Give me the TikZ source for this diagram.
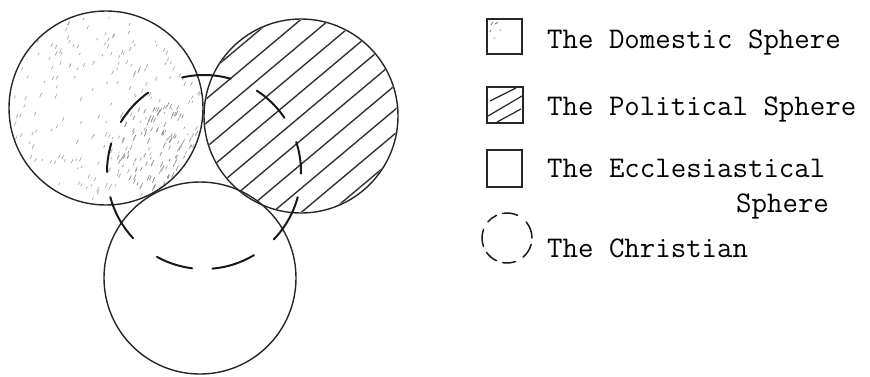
\documentclass[tikz,border=0pt]{standalone}
\usetikzlibrary{calc}
\tikzset{
  ring/.style={draw=black!85, line width=1.4pt},
  hatch/.style={draw=black!80, line width=1.4pt},
  xdash/.style={draw=black!90, line width=2pt, line cap=round},
  stip/.style={draw=black!35, line width=0.7pt, line cap=round},
  legbox/.style={draw=black!85, line width=1.3pt},
  legtext/.style={anchor=base west, inner sep=0pt, font=\fontsize{30}{36}\selectfont\ttfamily, text=black}
}
\begin{document}
\begin{tikzpicture}[x=1pt,y=-1pt]
\useasboundingbox (0,0) rectangle (870,376);
\coordinate (dom) at (106,108);
\coordinate (pol) at (301,116);
\coordinate (ecc) at (200,278);
\coordinate (chr) at (204,172);
% domestic stipple
\pgfmathsetseed{4711}
\begin{scope}
\clip (dom) circle[radius=96];
\foreach \i in {1,...,200}{
  \pgfmathsetmacro{\ra}{96*sqrt(rnd)}
  \pgfmathsetmacro{\th}{360*rnd}
  \pgfmathsetmacro{\ln}{1.5+3*rnd}
  \draw[stip] ($(dom)+(\th:\ra)$) -- ++(-65:\ln);
}
\foreach \i in {1,...,110}{
  \pgfmathsetmacro{\ra}{45*sqrt(rnd)}
  \pgfmathsetmacro{\th}{360*rnd}
  \pgfmathsetmacro{\ln}{2+4*rnd}
  \draw[stip, draw=black!45] ($(160,150)+(\th:\ra)$) -- ++(-65:\ln);
}
\end{scope}
% political hatch
\begin{scope}
\clip (pol) circle[radius=96];
\foreach \k in {-5,...,5}{
  \draw[hatch] ($(pol)+(50:{\k*18.5})+(140:115)$) -- ++(-40:230);
}
\end{scope}
% the three spheres
\draw[ring] (dom) circle[radius=97];
\draw[ring] (pol) circle[radius=97];
\draw[ring] (ecc) circle[radius=96];
% the Christian (dashed)
\foreach \a/\b in {74/103, 34/57, -1/18, -44/-15, -85/-59, -119/-97, -165/-137, 163/180, 125/149}{
  \draw[xdash] ($(chr)+({-\a}:97)$) arc[start angle={-\a}, end angle={-\b}, radius=97];
}
% legend
\draw[legbox] (487,19) rectangle (522,54);
\draw[stip, draw=black!60] (491,25) -- ++(-60:3) (495,24) -- ++(-30:3) (490,32) -- ++(-70:2) (500,30) -- ++(0:1) (494,38) -- ++(0:1);
\begin{scope}
\clip (487,87) rectangle (523,123);
\draw[legbox, line width=1.2pt] (490,101) -- (516,88) (488,116) -- (522,96) (497,122) -- (521,109);
\end{scope}
\draw[legbox] (487,87) rectangle (523,123);
\draw[legbox] (487,150) rectangle (522,187);
\coordinate (lc) at (507,238);
\foreach \a/\b in {65/100, 115/140, 160/200, 215/245, 260/290, 310/345, 0/40}{
  \draw[xdash, line width=1.5pt] ($(lc)+({-\a}:25)$) arc[start angle={-\a}, end angle={-\b}, radius=25];
}
\node[legtext] (t1) at (547,48) {The Domestic Sphere};
\node[legtext] (t2) at (547,115) {The Political Sphere};
\node[legtext] (t3) at (547,177) {The Ecclesiastical};
\node[legtext] (t3b) at (736,212) {Sphere};
\node[legtext] (t4) at (547,257) {The Christian};
\end{tikzpicture}
\end{document}
